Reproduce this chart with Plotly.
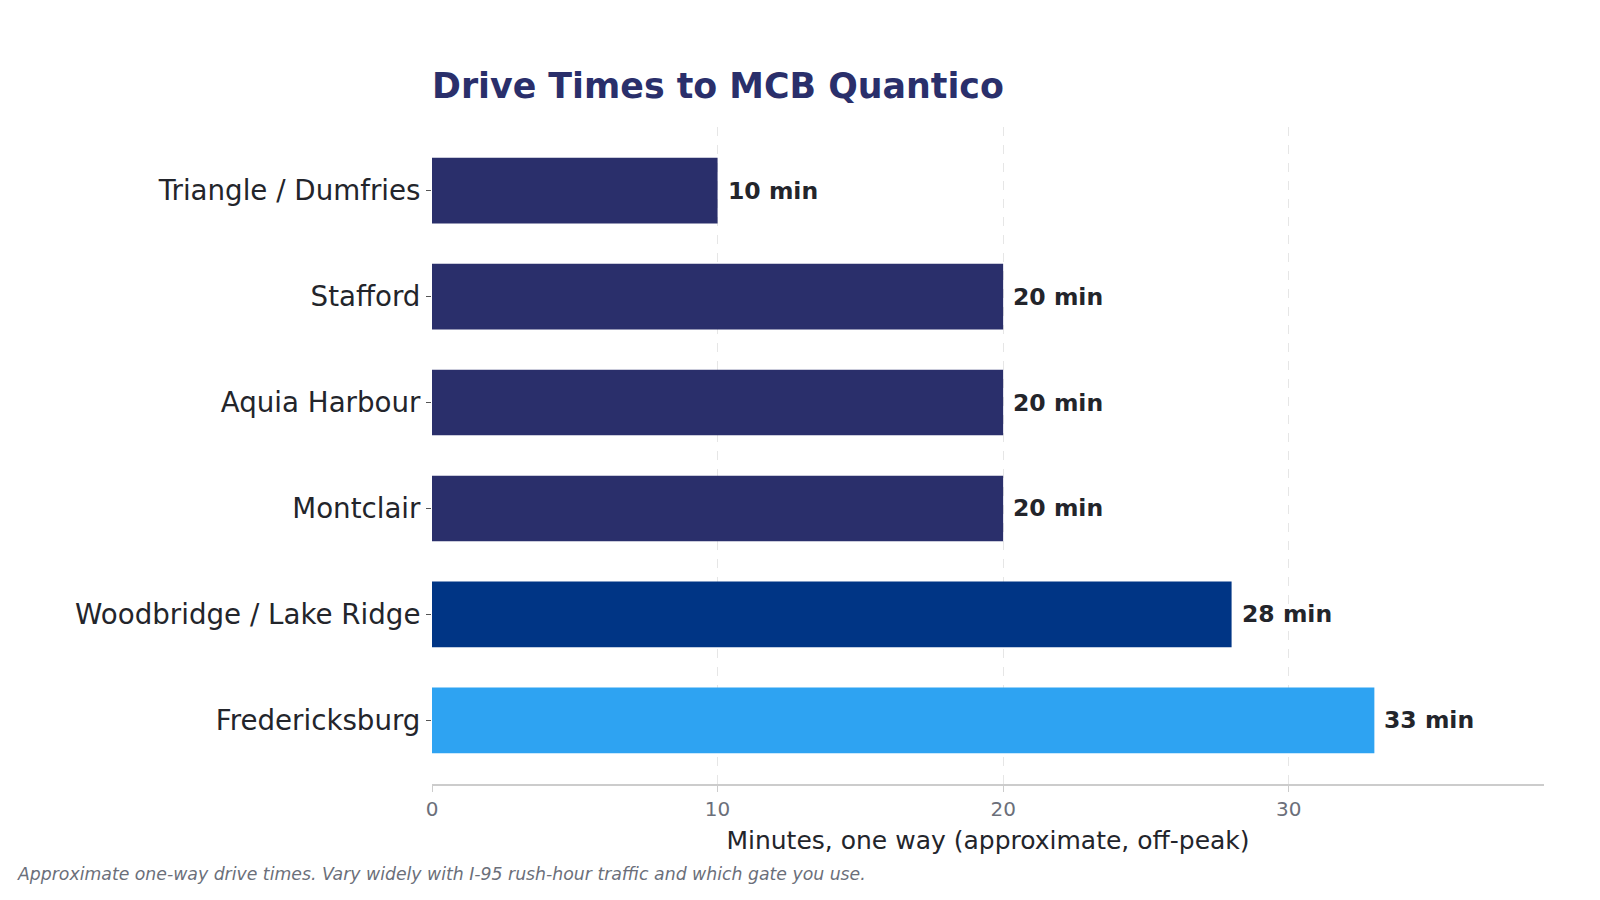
import plotly.graph_objects as go

locations = ["Triangle / Dumfries", "Stafford", "Aquia Harbour", "Montclair",
             "Woodbridge / Lake Ridge", "Fredericksburg"]
minutes = [10, 20, 20, 20, 28, 33]
bar_colors = ["#2a2f6b", "#2a2f6b", "#2a2f6b", "#2a2f6b", "#003585", "#2ea3f2"]
labels = [f"{m} min" for m in minutes]
x_ticks = [0, 10, 20, 30]

W, H = 1600, 900
ml, mr, mt, mb = 432, 56, 127, 116

fig = go.Figure(go.Bar(
    x=minutes, y=locations, orientation="h",
    marker=dict(color=bar_colors, line=dict(width=0)),
    width=0.62,
    cliponaxis=False,
))

annotations = [dict(
    x=m, y=loc, text=f"<b>{lab}</b>", xref="x", yref="y",
    xanchor="left", yanchor="middle", xshift=8, showarrow=False,
    font=dict(family="DejaVu Sans", size=23.5, color="#23252b"))
    for m, loc, lab in zip(minutes, locations, labels)]

annotations.append(dict(
    text="<i>Approximate one-way drive times. Vary widely with I-95 rush-hour traffic and which gate you use.</i>",
    xref="paper", yref="paper",
    x=(15 - ml) / (W - ml - mr), y=-(874 - (H - mb)) / (H - mt - mb),
    xanchor="left", yanchor="middle", showarrow=False,
    font=dict(size=17.3, color="#6b6f7a")))

fig.update_layout(
    width=W, height=H,
    margin=dict(l=ml, r=mr, t=mt, b=mb),
    paper_bgcolor="white", plot_bgcolor="white",
    font=dict(family="DejaVu Sans", color="#23252b"),
    showlegend=False,
    title=dict(text="<b>Drive Times to MCB Quantico</b>",
               font=dict(family="DejaVu Sans", size=34.8, color="#2a2f6b"),
               x=ml / W, xanchor="left", y=1 - 86 / H, yanchor="middle",
               xref="container", yref="container"),
    xaxis=dict(range=[0, 38.94], tickvals=x_ticks, ticks="outside", ticklen=6,
               tickcolor="#cccccc", tickfont=dict(size=20, color="#6b6f7a"),
               showgrid=True, gridcolor="#e6e6e6", griddash="dash", gridwidth=1,
               showline=True, linecolor="#cccccc", linewidth=1.5, zeroline=False,
               title=dict(text="Minutes, one way (approximate, off-peak)",
                          font=dict(size=25, color="#23252b"), standoff=12)),
    yaxis=dict(categoryorder="array", categoryarray=locations,
               range=[5.6, -0.6], ticks="outside", ticklen=5, tickcolor="#555",
               tickfont=dict(size=27.7, color="#23252b"), showgrid=False,
               showline=False, zeroline=False),
    annotations=annotations,
)

fig.write_html("out.html")
